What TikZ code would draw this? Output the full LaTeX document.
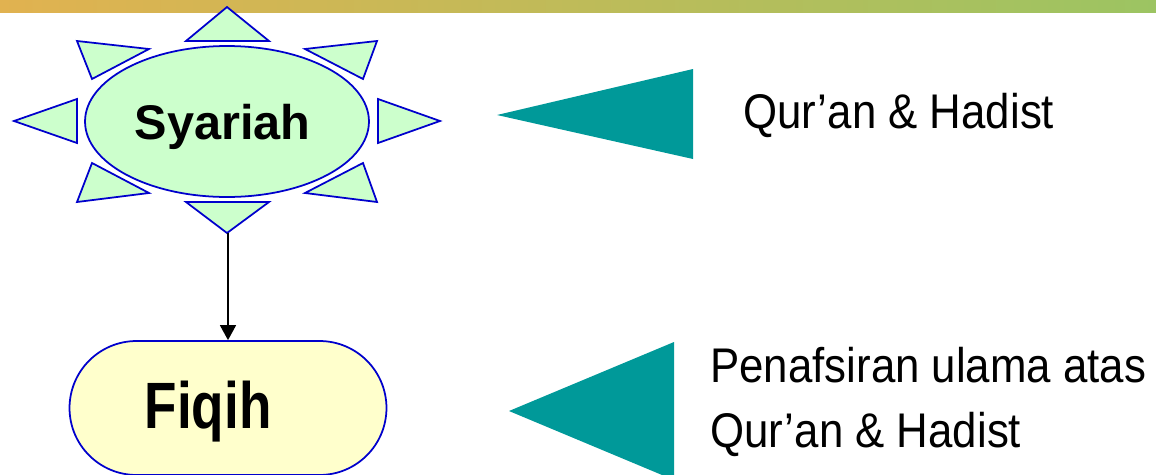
\documentclass[tikz,border=0pt]{standalone}
\usepackage{fontspec}
\setmainfont{Liberation Sans}
\newfontfamily\slimfont[FakeStretch=0.9]{Liberation Sans}
\newfontfamily\fiqihfont[FakeStretch=0.81]{Liberation Sans}
\usetikzlibrary{shapes.geometric,shapes.misc,arrows.meta}
\definecolor{raygreen}{HTML}{CCFFCC}
\definecolor{rayblue}{HTML}{0000CC}
\definecolor{fiqihfill}{HTML}{FFFFCC}
\definecolor{pointer}{HTML}{009999}
\definecolor{barorange}{RGB}{225,178,80}
\definecolor{bargreen}{RGB}{156,196,98}
\begin{document}
\begin{tikzpicture}[
    x=0.02cm,
    y=-0.02cm,
    >={Triangle[length=0.3cm,width=0.32cm]},
    outline/.style={draw=rayblue, line width=1pt},
    ray/.style={outline, fill=raygreen, line join=miter},
    pointer/.style={fill=pointer},
    caption/.style={font=\slimfont\fontsize{27.7}{36.9}\selectfont, inner sep=0pt, align=left}
]
\useasboundingbox (0,0) rectangle (1156,474);
\shade[left color=barorange, right color=bargreen] (0,0) rectangle (1156,12);

% sun round Syariah
\node[ellipse, ray, minimum width=5.68cm, minimum height=3.02cm, inner sep=0pt,
  font=\bfseries\fontsize{27.7}{33}\selectfont, text height=20pt, text depth=0pt]
  (syariah) at (227,121.5) {Syariah\hspace*{0.18cm}};
\foreach \ax/\ay/\bx/\by/\cx/\cy in {
    227/7/186/41/269/41,
    14/121/77/99/77/143,
    440/121/378/99/378/143,
    77/41/149/49/92/79,
    377/41/305/49/363/79,
    92/163/149/193/77/202,
    363/163/305/193/377/202,
    186/202/269/202/227/233}
  \draw[ray] (\ax,\ay) -- (\bx,\by) -- (\cx,\cy) -- cycle;
\coordinate (syariah tip) at (228,233);

\node[rounded rectangle, outline, fill=fiqihfill, minimum width=6.34cm, minimum height=2.68cm,
  inner sep=0pt, font=\fiqihfont\bfseries\fontsize{37.3}{44}\selectfont,
  text height=27.2pt, text depth=3.4pt]
  (fiqih) at (228,408) {Fiqih\hspace*{0.8cm}};

\draw[->, line width=0.8pt] (syariah tip) -- (syariah tip |- fiqih.north);

% pointers and their texts
\fill[pointer] (497,115) -- (693,69) -- (693,159) -- cycle;
\fill[pointer] (509,411) -- (674,342) -- (674,480) -- cycle;
\node[caption, anchor=base west] (source) at (743,128) {Qur’an \& Hadist};
\node[caption, anchor=west] (tafsir) at (710,402) {Penafsiran ulama atas\\Qur’an \& Hadist};
\end{tikzpicture}
\end{document}
